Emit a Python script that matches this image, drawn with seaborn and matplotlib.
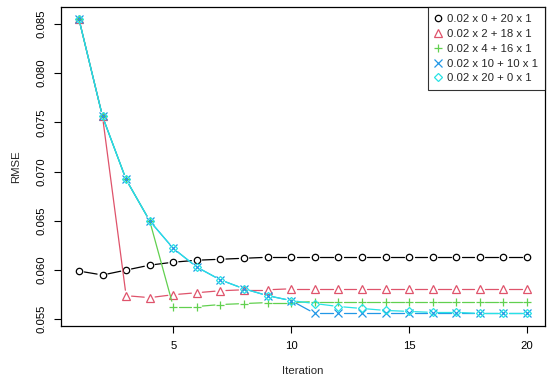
import numpy as np
import pandas as pd
import matplotlib
matplotlib.use('Agg')
import matplotlib.pyplot as plt
import seaborn as sns

iteration = list(range(1, 21))
labels = ['0.02 x 0 + 20 x 1', '0.02 x 2 + 18 x 1', '0.02 x 4 + 16 x 1',
          '0.02 x 10 + 10 x 1', '0.02 x 20 + 0 x 1']
rmse_0_20 = [0.0599, 0.0595, 0.0600, 0.0605, 0.0608, 0.0610, 0.0611, 0.0612, 0.0613, 0.0613,
             0.0613, 0.0613, 0.0613, 0.0613, 0.0613, 0.0613, 0.0613, 0.0613, 0.0613, 0.0613]
rmse_2_18 = [0.0855, 0.0756, 0.0574, 0.0572, 0.0575, 0.0577, 0.0579, 0.0580, 0.0580, 0.0581,
             0.0581, 0.0581, 0.0581, 0.0581, 0.0581, 0.0581, 0.0581, 0.0581, 0.0581, 0.0581]
rmse_4_16 = [0.0855, 0.0756, 0.0692, 0.0650, 0.0563, 0.0563, 0.0565, 0.0566, 0.0567, 0.0567,
             0.0568, 0.0568, 0.0568, 0.0568, 0.0568, 0.0568, 0.0568, 0.0568, 0.0568, 0.0568]
rmse_10_10 = [0.0855, 0.0756, 0.0692, 0.0650, 0.0622, 0.0603, 0.0590, 0.0581, 0.0574, 0.0569,
              0.0556, 0.0556, 0.0556, 0.0556, 0.0556, 0.0556, 0.0556, 0.0556, 0.0556, 0.0556]
rmse_20_0 = [0.0855, 0.0756, 0.0692, 0.0650, 0.0622, 0.0603, 0.0590, 0.0581, 0.0574, 0.0569,
             0.0566, 0.0563, 0.0561, 0.0559, 0.0558, 0.0557, 0.0557, 0.0556, 0.0556, 0.0556]
series = [rmse_0_20, rmse_2_18, rmse_4_16, rmse_10_10, rmse_20_0]
colors = ['black', '#DF536B', '#61D04F', '#2297E6', '#28E2E5']
markers = ['o', '^', '+', 'x', 'D']
msizes = [4.6, 5.2, 6.0, 5.4, 4.2]

sns.set_style('white')
plt.rcParams['font.family'] = ['Liberation Sans', 'DejaVu Sans']

fig = plt.figure(figsize=(5.5, 3.84), dpi=100)
ax = fig.add_axes([61 / 550, 1 - 326 / 384, 484 / 550, 319 / 384])
ax.set_xlim(0.24, 20.76)
ax.set_ylim(0.05432, 0.08672)

gap = 5.5  # px gap between line and point, like R type="b"
for vals, lab, c, m, ms in zip(series, labels, colors, markers, msizes):
    df = pd.DataFrame({'Iteration': iteration, 'RMSE': vals})
    # shortened segments between points
    pts = ax.transData.transform(df[['Iteration', 'RMSE']].to_numpy(dtype=float))
    inv = ax.transData.inverted()
    for p1, p2 in zip(pts[:-1], pts[1:]):
        d = p2 - p1
        L = np.hypot(*d)
        if L > 2 * gap:
            a = inv.transform(p1 + d / L * gap)
            b = inv.transform(p2 - d / L * gap)
            ax.plot([a[0], b[0]], [a[1], b[1]], color=c, lw=0.9)
    sns.lineplot(data=df, x='Iteration', y='RMSE', ax=ax, linestyle='none',
                 marker=m, markersize=ms, markerfacecolor='none',
                 markeredgecolor=c, markeredgewidth=0.9, color=c, label=lab)

ax.set_xlim(0.24, 20.76)
ax.set_ylim(0.05432, 0.08672)
ax.set_xticks([5, 10, 15, 20])
ax.set_yticks([0.055, 0.060, 0.065, 0.070, 0.075, 0.080, 0.085])
ax.set_yticklabels(['0.055', '0.060', '0.065', '0.070', '0.075', '0.080', '0.085'])
ax.tick_params(axis='both', which='both', direction='out', length=5, width=0.8,
               pad=5.5, labelsize=8.2, color='black', labelcolor='black',
               bottom=True, left=True, top=False, right=False)
for t in ax.get_yticklabels():
    t.set_rotation(90)
    t.set_va('center')
ax.set_xlabel('Iteration', fontsize=8.2, labelpad=11)
ax.set_ylabel('RMSE', fontsize=8.2, labelpad=11)
for sp in ax.spines.values():
    sp.set_color('black')
    sp.set_linewidth(0.9)

leg = ax.legend(loc='upper right', fontsize=8.2, frameon=True, fancybox=False,
                borderaxespad=0, labelspacing=0.43, handlelength=0.6,
                handletextpad=0.5, borderpad=0.6)
leg.get_frame().set_edgecolor('black')
leg.get_frame().set_linewidth(0.8)

fig.savefig('out.png', dpi=100)
